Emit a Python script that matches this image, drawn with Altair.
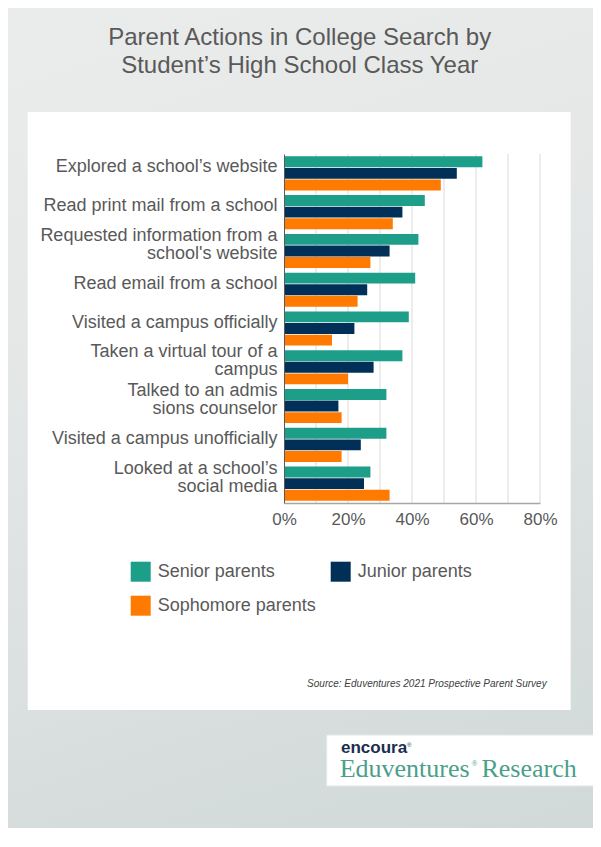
import altair as alt
import pandas as pd

# ---------------- data ----------------
categories = [
    "Explored a school’s website",
    "Read print mail from a school",
    "Requested information from a |school's website",
    "Read email from a school",
    "Visited a campus officially ",
    "Taken a virtual tour of a |campus",
    "Talked to an admis|sions counselor",
    "Visited a campus unofficially",
    "Looked at a school’s |social media",
]
series = ["Senior parents", "Junior parents", "Sophomore parents"]
senior = [62, 44, 42, 41, 39, 37, 32, 32, 27]
junior = [54, 37, 33, 26, 22, 28, 17, 24, 25]
sophomore = [49, 34, 27, 23, 15, 20, 18, 18, 33]
colors = ["#1d9e88", "#003057", "#ff7a00"]
grid_ticks = [10, 20, 30, 40, 50, 60, 70, 80]
label_ticks = [0, 20, 40, 60, 80]

TITLE_LINES = ["Parent Actions in College Search by", "Student’s High School Class Year"]
SOURCE = "Source: Eduventures 2021 Prospective Parent Survey"
LOGO_TOP = "encoura"
LOGO_A = "Eduventures"
LOGO_B = "Research"
REG = "®"

rows = []
for s, vals in zip(series, [senior, junior, sophomore]):
    for c, v in zip(categories, vals):
        rows.append({"action": c, "group": s, "value": v})
df = pd.DataFrame(rows)
grid_df = pd.DataFrame({"value": grid_ticks})
one = pd.DataFrame({"k": [0]})

W, H = 256, 349
FONT = "Liberation Sans"
GREY = "#595959"

# ---------------- decoration ----------------
bg = alt.Chart(one).mark_rect(
    fill=alt.LinearGradient(
        gradient="linear",
        stops=[alt.GradientStop(color="#ededed", offset=0),
               alt.GradientStop(color="#e6e8e8", offset=0.4),
               alt.GradientStop(color="#cdd6d6", offset=1)],
        x1=0, x2=0.3, y1=0, y2=1,
    )
).encode(x=alt.value(-400), x2=alt.value(700), y=alt.value(-300), y2=alt.value(900))

card = alt.Chart(one).mark_rect(fill="white").encode(
    x=alt.value(-256.3), x2=alt.value(286.7), y=alt.value(-42), y2=alt.value(556)
)

logo_box = alt.Chart(one).mark_rect(fill="white", stroke="#e4e8e8", strokeWidth=1).encode(
    x=alt.value(42.7), x2=alt.value(330), y=alt.value(581), y2=alt.value(632)
)

title = alt.Chart(one).mark_text(
    text=TITLE_LINES, align="center", baseline="alphabetic", fontSize=24,
    lineHeight=28, color=GREY, font=FONT
).encode(x=alt.value(15.7), y=alt.value(-109))

source = alt.Chart(one).mark_text(
    text=SOURCE, align="right", baseline="alphabetic", fontSize=10,
    fontStyle="italic", color="#404040", font=FONT
).encode(x=alt.value(262.7), y=alt.value(532.5))

logo_top = alt.Chart(one).mark_text(
    text=LOGO_TOP, align="left", baseline="alphabetic", fontSize=17,
    fontWeight="bold", color="#1c2d4f", font=FONT
).encode(x=alt.value(57), y=alt.value(599.3))

logo_top_reg = alt.Chart(one).mark_text(
    text=REG, align="left", baseline="alphabetic", fontSize=6,
    color="#1c2d4f", font=FONT
).encode(x=alt.value(123), y=alt.value(593))

logo_a = alt.Chart(one).mark_text(
    text=LOGO_A, align="left", baseline="alphabetic", fontSize=26,
    color="#4a9f8a", font="Liberation Serif"
).encode(x=alt.value(55.7), y=alt.value(623.3))

logo_reg = alt.Chart(one).mark_text(
    text=REG, align="left", baseline="alphabetic", fontSize=8,
    color="#4a9f8a", font="Liberation Serif"
).encode(x=alt.value(187.5), y=alt.value(612))

logo_b = alt.Chart(one).mark_text(
    text=LOGO_B, align="left", baseline="alphabetic", fontSize=26,
    color="#4a9f8a", font="Liberation Serif"
).encode(x=alt.value(197.4), y=alt.value(623.3))

# ---------------- chart ----------------
xscale = alt.Scale(domain=[0, 80], nice=False)
x_axis = alt.Axis(
    title=None, values=label_ticks, labelExpr="datum.value + '%'",
    grid=False, ticks=False, domainColor="#a6a6a6", domainWidth=1.5,
    labelFontSize=17, labelColor=GREY, labelFont=FONT, labelPadding=8,
    labelFlush=False, zindex=1,
)

grid = alt.Chart(grid_df).mark_rule(color="#d9d9d9", strokeWidth=1).encode(
    x=alt.X("value:Q", scale=xscale, axis=x_axis),
    y=alt.value(0), y2=alt.value(H),
)

bars = alt.Chart(df).mark_bar().encode(
    y=alt.Y(
        "action:N", sort=categories,
        scale=alt.Scale(paddingInner=0.12, paddingOuter=0.06),
        axis=alt.Axis(
            title=None, labelExpr="split(datum.label, '|')", labelFontSize=18,
            labelColor=GREY, labelFont=FONT, labelLimit=400, labelPadding=7,
            labelOffset={"condition": {"test": "indexof(datum.label, '|') >= 0", "value": -15},
                         "value": -6},
            labelLineHeight=18, ticks=False,
            domainColor=GREY, domainWidth=1, zindex=1,
        ),
    ),
    yOffset=alt.YOffset("group:N", sort=series, scale=alt.Scale(paddingInner=0.06)),
    x=alt.X("value:Q", scale=xscale, axis=x_axis),
    color=alt.Color(
        "group:N",
        scale=alt.Scale(domain=series, range=colors),
        legend=alt.Legend(
            orient="none", legendX=-153.3, legendY=407.7, direction="horizontal",
            columns=2, title=None, symbolType="square", symbolSize=400,
            symbolStrokeWidth=0, symbolOpacity=1, labelFontSize=18, labelColor=GREY,
            labelFont=FONT, columnPadding=14, rowPadding=14, labelOffset=7,
            padding=0, labelLimit=300,
        ),
    ),
)

chart = alt.layer(
    bg, card, logo_box, title, source, logo_top, logo_top_reg, logo_a, logo_reg, logo_b,
    grid, bars,
).properties(
    width=W, height=H,
    autosize=alt.AutoSizeParams(type="none"),
    padding={"left": 276, "top": 146, "right": 53, "bottom": 325},
).configure(
    background="#e4e7e7", font=FONT
).configure_view(stroke=None)

chart.save("out.html", embed_options={"renderer": "svg", "actions": False})
